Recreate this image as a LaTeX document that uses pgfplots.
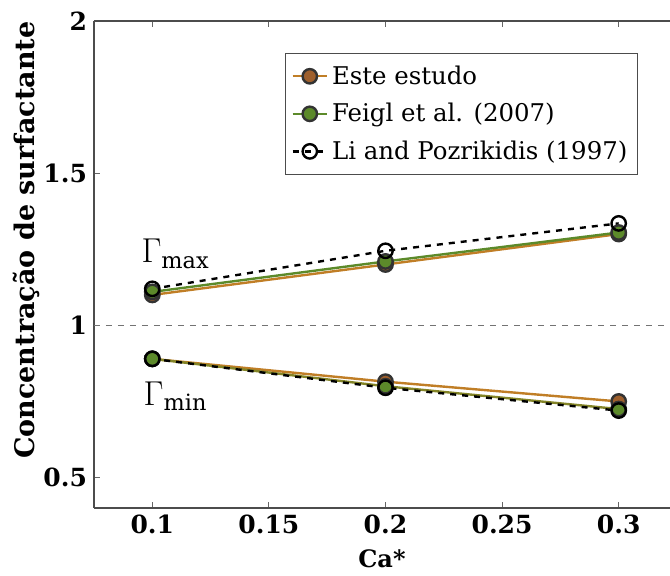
\documentclass[border=0pt]{standalone}
\usepackage{fontspec}
\setmainfont{DejaVu Serif}
\usepackage{pgfplots}
\pgfplotsset{compat=1.18}
\usetikzlibrary{calc}

\definecolor{esteline}{HTML}{C07E26}
\definecolor{estemark}{HTML}{9E5F2C}
\definecolor{feigl}{HTML}{5C8A2A}

\begin{document}
\begin{tikzpicture}
\begin{axis}[
    scale only axis, width=288pt, height=243.5pt,
    xmin=0.075, xmax=0.322, ymin=0.4, ymax=2,
    axis x line*=box, axis y line*=left,
    xtick={0.1,0.15,0.2,0.25,0.3}, xticklabels={0.1,0.15,0.2,0.25,0.3},
    ytick={0.5,1,1.5,2}, yticklabels={0.5,1,1.5,2},
    tick align=inside, major tick length=3pt,
    tick style={black!60, thin},
    axis line style={black!70, thick},
    tick label style={font=\bfseries\fontsize{12.5}{14}\selectfont},
    xlabel={Ca*},
    xlabel style={font=\bfseries\fontsize{12}{14}\selectfont, at={(axis description cs:0.5,-0.105)}, anchor=center},
    ylabel={Concentração de surfactante},
    ylabel style={font=\bfseries\fontsize{13.5}{15}\selectfont, at={(axis description cs:-0.118,0.55)}, anchor=center},
    legend cell align=left,
    legend style={at={(rel axis cs:0.944,0.934)}, anchor=north east,
        font=\fontsize{12.2}{15}\selectfont, draw=black!70, thin,
        inner xsep=3pt, inner ysep=4pt, row sep=4pt},
]
\coordinate (sw) at (rel axis cs:0,0);
\coordinate (ne) at (rel axis cs:1,1);

\addplot[black!55, dashed, thick, forget plot] coordinates {(0.075,1) (0.322,1)};

% Gamma max
\addplot[esteline, line width=1.2pt, mark=*, mark size=3.6pt, mark options={fill=estemark, draw=black!80, solid}]
    coordinates {(0.1,1.10) (0.2,1.20) (0.3,1.30)};
\addplot[feigl, line width=1.2pt, mark=*, mark size=3.6pt, mark options={fill=feigl, draw=black!80, solid}]
    coordinates {(0.1,1.11) (0.2,1.21) (0.3,1.305)};
\addplot[black, dashed, line width=1.2pt, mark=o, mark size=3.6pt, mark options={fill=white, solid}]
    coordinates {(0.1,1.12) (0.2,1.245) (0.3,1.335)};

% Gamma min
\addplot[esteline, line width=1.2pt, mark=*, mark size=3.6pt, mark options={fill=estemark, draw=black!80, solid}, forget plot]
    coordinates {(0.1,0.89) (0.2,0.815) (0.3,0.75)};
\addplot[feigl!60!esteline, line width=1.2pt, mark=*, mark size=3.6pt, mark options={fill=feigl, draw=black!80, solid}, forget plot]
    coordinates {(0.1,0.89) (0.2,0.80) (0.3,0.725)};
\addplot[black, dashed, line width=1.2pt, mark=o, mark size=3.6pt, mark options={fill=white, solid}, forget plot]
    coordinates {(0.1,0.89) (0.2,0.795) (0.3,0.72)};

\node[font=\fontsize{16}{18}\selectfont] at (axis cs:0.11,1.235) {$\Gamma_{\mathrm{max}}$};
\node[font=\fontsize{16}{18}\selectfont] at (axis cs:0.11,0.766) {$\Gamma_{\mathrm{min}}$};

\legend{Este estudo, Feigl et al. (2007), Li and Pozrikidis (1997)}
\end{axis}
\pgfresetboundingbox
\path[use as bounding box] ($(sw)+(-47pt,-34pt)$) rectangle ($(ne)+(0pt,10.5pt)$);
\end{tikzpicture}
\end{document}
